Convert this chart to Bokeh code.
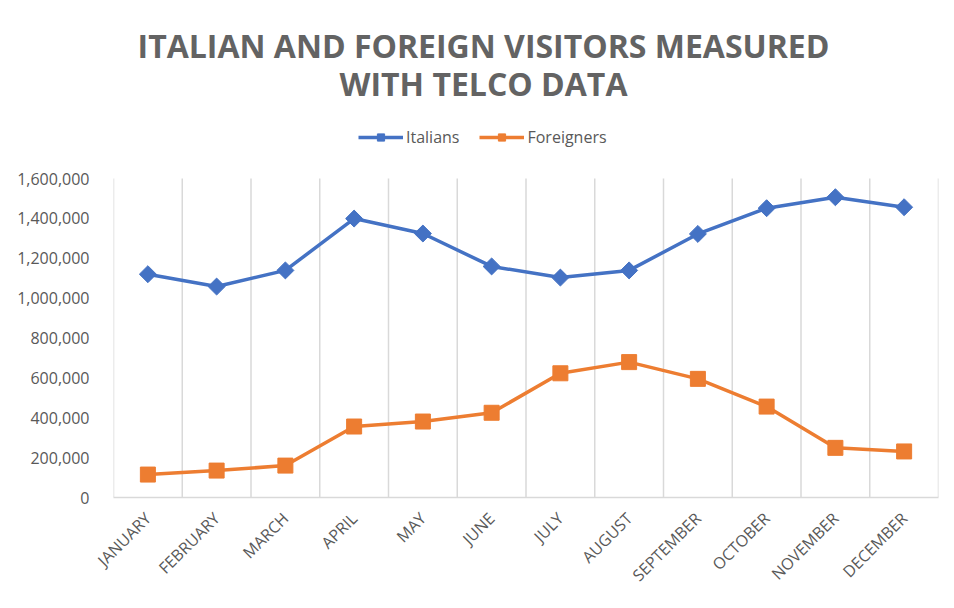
import math
from bokeh.plotting import figure
from bokeh.models import (Legend, LegendItem, Label, FixedTicker, NumeralTickFormatter,
                          Range1d, ColumnDataSource)
from bokeh.embed import file_html
from bokeh.resources import INLINE

months = ["JANUARY", "FEBRUARY", "MARCH", "APRIL", "MAY", "JUNE", "JULY",
          "AUGUST", "SEPTEMBER", "OCTOBER", "NOVEMBER", "DECEMBER"]
italians = [1120000, 1058000, 1139000, 1399000, 1324000, 1159000, 1103000,
            1139000, 1322000, 1451000, 1506000, 1456000]
foreigners = [115000, 135000, 160000, 356000, 381000, 425000, 623000,
              679000, 595000, 456000, 249000, 231000]
y_ticks = [0, 200000, 400000, 600000, 800000, 1000000, 1200000, 1400000, 1600000]
title_lines = ["ITALIAN AND FOREIGN VISITORS MEASURED", "WITH TELCO DATA"]

BLUE = "#4472C4"
ORANGE = "#ED7D31"
GREY = "#595959"
GRID = "#d9d9d9"
FONT = "Open Sans"

W, H = 954, 608
LEFT, RIGHT, TOP, BOTTOM = 113, 16, 10, 111
n = len(months)
xc = [i + 0.5 for i in range(n)]
src = ColumnDataSource(dict(x=xc, ita=italians, foe=foreigners))

# the frame extends above the top tick so the title and legend can live in it
frame_h = H - TOP - BOTTOM
plot_h = 319  # pixel height of the 0..top-tick band
per_px = y_ticks[-1] / plot_h
y_top = per_px * frame_h
frame_w = W - LEFT - RIGHT
x_per_px = n / frame_w

def yv(ypage):
    return (H - BOTTOM - ypage) * per_px

def xv(xpage):
    return (xpage - LEFT) * x_per_px

p = figure(width=W, height=H, output_backend="svg", toolbar_location=None,
           x_range=Range1d(0, n), y_range=Range1d(0, y_top),
           min_border_left=LEFT, min_border_right=RIGHT, min_border_bottom=BOTTOM,
           min_border_top=TOP)
p.title.visible = False
p.outline_line_color = None

# vertical grid lines at category boundaries, only up to the top tick
bounds = list(range(n + 1))
p.segment(x0=bounds, x1=bounds, y0=[y_ticks[0]] * len(bounds), y1=[y_ticks[-1]] * len(bounds),
          line_color=GRID, line_width=1.5)

l1 = p.line("x", "ita", source=src, line_color=BLUE, line_width=3.5)
m1 = p.scatter("x", "ita", source=src, marker="square", angle=math.pi / 4, size=12,
               fill_color=BLUE, line_color=BLUE)
l2 = p.line("x", "foe", source=src, line_color=ORANGE, line_width=3.5)
m2 = p.scatter("x", "foe", source=src, marker="square", size=15, fill_color=ORANGE, line_color=ORANGE)

legend = Legend(items=[LegendItem(label="Italians", renderers=[l1, m1]),
                       LegendItem(label="Foreigners", renderers=[l2, m2])],
                orientation="horizontal", location=(245, 349),
                label_text_font=FONT, label_text_font_size="16px", label_text_color=GREY,
                glyph_width=45, glyph_height=18, spacing=20, label_standoff=3,
                border_line_color=None, background_fill_alpha=0, margin=0, padding=4)
p.add_layout(legend, "center")

for line, ypage in zip(title_lines, [45, 83]):
    p.add_layout(Label(x=xv(483), y=yv(ypage), text=line, text_align="center",
                       text_baseline="middle", text_font=FONT, text_font_size="32px",
                       text_font_style="bold", text_color="#636363"))

# x axis
p.xaxis.ticker = FixedTicker(ticks=xc)
p.xaxis.major_label_overrides = {x: m for x, m in zip(xc, months)}
p.xaxis.major_label_orientation = math.pi / 4
p.xaxis.major_label_text_font = FONT
p.xaxis.major_label_text_font_size = "16px"
p.xaxis.major_label_text_color = GREY
p.xaxis.major_tick_line_color = None
p.xaxis.minor_tick_line_color = None
p.xaxis.axis_line_color = GRID
p.xaxis.axis_line_width = 1.5
p.xaxis.major_label_standoff = 12
p.xgrid.grid_line_color = None

# y axis
p.yaxis.ticker = FixedTicker(ticks=y_ticks)
p.yaxis.formatter = NumeralTickFormatter(format="0,0")
p.yaxis.major_label_text_font = FONT
p.yaxis.major_label_text_font_size = "16px"
p.yaxis.major_label_text_color = GREY
p.yaxis.axis_line_color = None
p.yaxis.major_tick_line_color = None
p.yaxis.minor_tick_line_color = None
p.yaxis.major_label_standoff = 18
p.ygrid.grid_line_color = None

open("out.html", "w").write(file_html(p, INLINE))
